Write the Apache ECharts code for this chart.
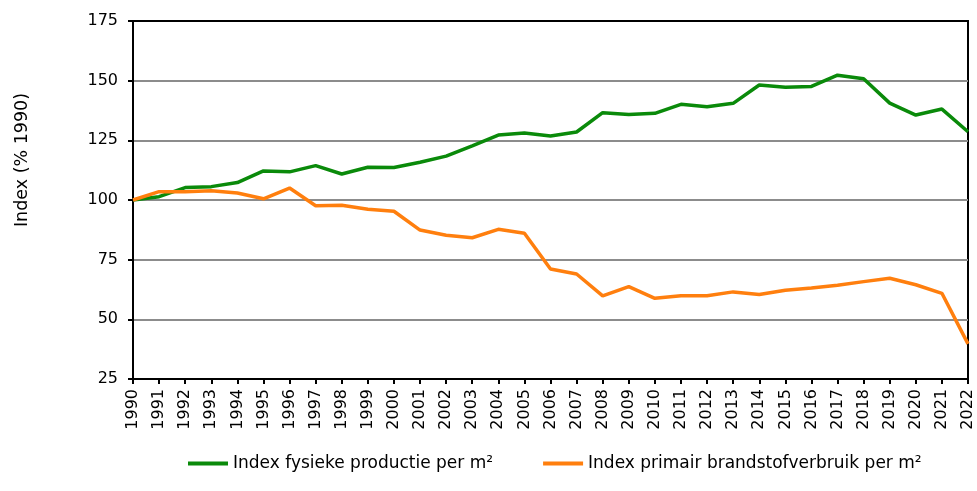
<!DOCTYPE html>
<html>
<head>
<meta charset="utf-8">
<script src="https://cdn.jsdelivr.net/npm/echarts@6/dist/echarts.min.js"></script>
<style>
  html, body { margin: 0; padding: 0; background: #fff; }
  #chart { width: 977px; height: 491px; }
</style>
</head>
<body>
<div id="chart"></div>
<script>
const years = ['1990','1991','1992','1993','1994','1995','1996','1997','1998','1999',
  '2000','2001','2002','2003','2004','2005','2006','2007','2008','2009',
  '2010','2011','2012','2013','2014','2015','2016','2017','2018','2019',
  '2020','2021','2022']

const productie = [100, 101.4, 105.2, 105.6, 107.3, 112.2, 111.8, 114.4, 110.9, 113.7,
  113.6, 115.8, 118.4, 122.7, 127.2, 128.1, 126.8, 128.5, 136.6, 135.8,
  136.3, 140.1, 139.1, 140.5, 148.2, 147.2, 147.6, 152.3, 150.8, 140.6,
  135.6, 138.1, 128.6]

const brandstof = [100, 103.5, 103.5, 103.9, 102.9, 100.5, 105.0, 97.6, 97.8, 96.1,
  95.3, 87.4, 85.2, 84.2, 87.7, 86.1, 71.1, 69.0, 59.8, 63.7,
  58.8, 59.9, 59.9, 61.5, 60.4, 62.2, 63.1, 64.3, 65.8, 67.2,
  64.5, 60.9, 39.7]

const seriesNames = ['Index fysieke productie per m²', 'Index primair brandstofverbruik per m²']
const colors = ['#0a8a0a', '#ff7f0e']

const font = '"DejaVu Sans", Verdana, sans-serif'
const chart = echarts.init(document.getElementById('chart'))

const options = {
  animation: false,
  color: colors,
  textStyle: { fontFamily: font, color: '#000' },
  grid: { left: 133, right: 9, top: 21, bottom: 112, show: true, borderColor: '#000', borderWidth: 2 },
  legend: {
    top: 450,
    left: 183,
    itemWidth: 40,
    itemHeight: 4,
    itemGap: 50,
    icon: 'rect',
    textStyle: { fontFamily: font, fontSize: 17, color: '#000' },
    data: seriesNames
  },
  xAxis: {
    type: 'category',
    data: years,
    boundaryGap: false,
    axisLine: { lineStyle: { color: '#000', width: 2 } },
    axisTick: { show: true, length: 5, lineStyle: { color: '#000', width: 2 }, alignWithLabel: true },
    axisLabel: { rotate: 90, interval: 0, fontSize: 16, fontFamily: font, color: '#000', margin: 10 }
  },
  yAxis: {
    type: 'value',
    min: 25,
    max: 175,
    interval: 25,
    axisLine: { show: true, lineStyle: { color: '#000', width: 2 } },
    axisTick: { show: true, length: 5, lineStyle: { color: '#000', width: 2 } },
    axisLabel: { fontSize: 16, fontFamily: font, color: '#000', margin: 15 },
    splitLine: { showMinLine: false, showMaxLine: false, lineStyle: { color: '#8c8c8c', width: 2 } }
  },
  graphic: [{
    type: 'text',
    x: 22,
    y: 160,
    rotation: Math.PI / 2,
    style: { text: 'Index (% 1990)', font: '17.5px ' + font, fill: '#000', align: 'center', verticalAlign: 'middle' }
  }],
  series: [
    {
      name: seriesNames[0],
      type: 'line',
      data: productie,
      symbol: 'none',
      lineStyle: { width: 3.5, color: colors[0] },
      itemStyle: { color: colors[0] }
    },
    {
      name: seriesNames[1],
      type: 'line',
      data: brandstof,
      symbol: 'none',
      lineStyle: { width: 3.5, color: colors[1] },
      itemStyle: { color: colors[1] }
    }
  ]
}

chart.setOption(options)
</script>
</body>
</html>
